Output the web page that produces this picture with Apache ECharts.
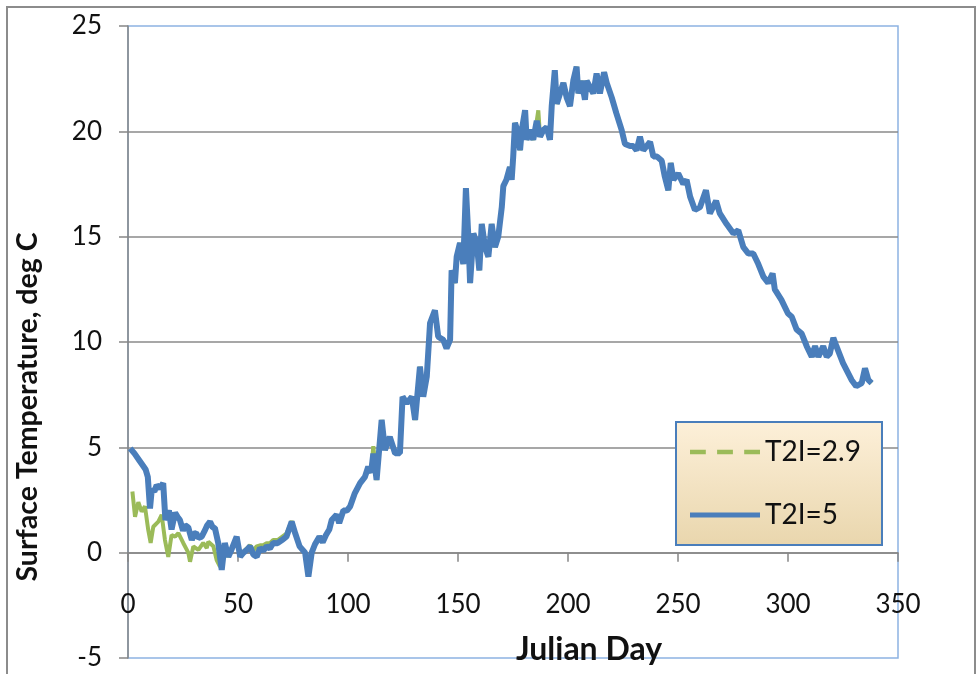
<!DOCTYPE html>
<html>
<head>
<meta charset="utf-8">
<script src="https://cdn.jsdelivr.net/npm/echarts@6/dist/echarts.min.js"></script>
<style>
html,body{margin:0;padding:0;background:#fff;}
#chart{width:977px;height:674px;}
</style>
</head>
<body>
<div id="chart"></div>
<script>
// Tick labels / axis ranges
const xTicks = [0, 50, 100, 150, 200, 250, 300, 350];
const yTicks = [-5, 0, 5, 10, 15, 20, 25];
const seriesNames = ['T2I=2.9', 'T2I=5'];

// T2I=5 series (Julian day, surface temperature)
const blueDays = [1,3,5,7,8,9,10,10.8,12,13,14.5,16,17,18.6,19.8,21.4,22.5,23.6,25,26,27.4,29,30,31,32,33.5,35,36,37.3,38.5,39.5,41,42.6,44,45.6,47,49.4,51,52.5,54,55.5,57,58.5,60,61.5,63,64.5,66,68,70,72,74.4,76,78,80.5,82,83.5,85,87,88.5,90,91.5,92.6,94.8,96,97.9,99.5,101,103,105.5,107.7,109.2,110.5,111.5,113,115.3,116.8,119,121.4,123.6,124.8,126.7,129,130.5,132.7,134.2,135.8,137.3,139.5,141,143.3,144.8,146.4,147.1,148.6,149.4,150.9,152.4,153.6,154.7,155.5,157,158.5,159.7,160.8,162.3,163.8,165.3,166.8,168.3,169.9,170.6,172,173.6,174.4,175.1,175.9,177.4,178.2,179,180.5,181.2,182.7,184.2,185.8,187.3,188.8,190.3,191.8,192.6,194,194.9,196.4,197.9,199.4,200.9,202.4,203.9,204.7,206.2,207.7,208.5,210,211.5,213,214.5,216.4,217.6,219.9,222,224.4,225.9,228.2,229.7,231.2,232.7,234.2,237.3,238.8,240.5,242.6,244,245.6,246.7,247.9,250.1,252.4,253.9,255.5,257.7,260,262.7,264.5,267.3,269,272.1,275.2,277.4,279.7,282,284.2,286.5,288.8,291,293,294,297,300,301.7,303.9,306.2,308.5,310.8,312.3,313.8,316,317.6,319,320.6,322,325,328.9,331,333.5,335,336.5,338];
const blueTemps = [4.95,4.7,4.4,4.1,3.95,3.6,2.1,3.0,2.9,3.2,3.05,3.3,1.55,2.0,1.1,1.9,1.7,1.55,1.05,1.3,1.2,0.6,0.9,0.93,0.7,0.76,1.07,1.3,1.47,1.2,1.17,0.46,-0.82,0.46,-0.19,0.13,0.76,-0.19,0.0,0.13,0.3,-0.1,-0.19,0.22,0.1,0.3,0.2,0.46,0.45,0.6,0.76,1.47,0.92,0.3,0.0,-1.14,0.0,0.4,0.76,0.5,0.84,1.1,1.55,1.8,1.4,2.0,2.0,2.2,2.8,3.3,3.6,4.08,3.8,4.7,3.45,6.3,4.87,5.5,4.72,4.72,7.4,7.1,7.4,6.3,8.83,7.4,8.35,10.9,11.5,10.25,10.1,9.7,10.1,13.4,12.8,14.05,14.7,13.7,17.3,15.0,12.8,15.15,14.7,13.4,15.6,14.5,14.05,15.6,14.5,15.0,16.4,17.4,17.7,18.3,17.7,18.8,20.4,19.9,19.1,20.06,21.0,19.6,20.06,19.6,20.5,19.75,20.06,20.2,19.6,21.2,22.9,21.3,21.8,22.3,21.6,21.2,22.4,23.07,21.8,22.4,21.5,22.4,22.1,21.8,22.75,21.8,22.8,22.3,21.6,20.85,20.06,19.4,19.3,19.3,19.1,19.75,19.1,19.5,18.8,18.8,18.6,17.85,17.2,18.5,17.7,18.0,17.5,17.7,16.9,16.27,16.4,17.2,16.1,16.7,16.1,15.6,15.15,15.3,14.5,14.2,14.2,13.7,13.1,12.8,13.25,12.5,12.0,11.35,11.2,10.6,10.4,9.8,9.3,9.8,9.3,9.8,9.3,9.45,10.2,9.8,9.0,8.2,7.9,8.05,8.75,8.2,8.05];

// T2I=2.9 series: its own readings where it departs from T2I=5 (days 2-76)
const greenEarlyDays = [2,3.2,4.7,6.2,7.7,9.2,10.3,11.5,13.8,15.3,16.8,18.3,19.8,21.4,22.9,25.1,27.4,28.2,29.7,32,34.2,35.8,36.5,38.8,40.3,41.8,43,44,45.6,47,49.4,51,52.5,54,55.5,57,58.5,60,61.5,63,64.5,66,68,70,72,74.4,76];
const greenEarlyTemps = [2.9,1.7,2.4,1.95,2.2,1.08,0.46,1.23,1.47,1.8,0.6,-0.2,0.84,0.76,0.93,0.46,0.0,-0.43,0.3,0.13,0.46,0.22,0.52,0.3,-0.35,-0.66,-0.5,0.4,-0.2,0.15,0.7,-0.15,0.05,0.2,0.35,0.1,0.3,0.35,0.35,0.45,0.45,0.6,0.6,0.75,0.9,1.5,0.95];
// After day 76 the two runs coincide; these are the only points where T2I=2.9 shows above
const greenPeakDays = [111.5, 186.5];
const greenPeakTemps = [5.05, 21.0];

function pairs(d, t) { return d.map((v, i) => [v, t[i]]); }
const blueData = pairs(blueDays, blueTemps);
const greenData = pairs(greenEarlyDays, greenEarlyTemps)
  .concat(blueData.filter(p => p[0] > 76 && greenPeakDays.indexOf(p[0]) < 0))
  .concat(pairs(greenPeakDays, greenPeakTemps))
  .sort((a, b) => a[0] - b[0]);

const FONT = 'Lato, "Open Sans", sans-serif';
const GREEN = '#9bbb59', BLUE = '#4a7ebb';
const chart = echarts.init(document.getElementById('chart'), null, {renderer: 'canvas'});
chart.setOption({
  animation: false,
  backgroundColor: '#fff',
  graphic: [
    {type: 'rect', z: 0, silent: true,
     shape: {x: 7, y: 7, width: 968, height: 700},
     style: {fill: 'none', stroke: '#8c8c8c', lineWidth: 2}},
    {type: 'rect', z: 50, silent: true,
     shape: {x: 676, y: 422, width: 206, height: 123},
     style: {
       fill: new echarts.graphic.LinearGradient(0, 0, 0, 1, [{offset: 0, color: '#fdf0d9'}, {offset: 1, color: '#e9d6ad'}]),
       stroke: BLUE, lineWidth: 2
     }}
  ],
  grid: {left: 128, right: 79, top: 26, bottom: 16, containLabel: false, outerBoundsMode: 'none',
         show: true, borderColor: '#8db3e2', borderWidth: 1.5, backgroundColor: 'transparent'},
  legend: {
    orient: 'vertical',
    left: 690, top: 438, right: 'auto', bottom: 'auto',
    padding: 0,
    z: 60,
    itemGap: 35,
    itemWidth: 70, itemHeight: 5,
    textStyle: {fontFamily: FONT, fontSize: 28, color: '#111'},
    data: [
      {name: seriesNames[0], icon: 'path://M0,0h14v4h-14z M24,0h14v4h-14z M48,0h14v4h-14z', itemStyle: {color: GREEN}},
      {name: seriesNames[1], icon: 'rect', itemStyle: {color: BLUE}}
    ]
  },
  xAxis: {
    type: 'value', min: xTicks[0], max: xTicks[xTicks.length - 1], interval: 50,
    name: 'Julian Day', nameLocation: 'middle', nameGap: -24,
    nameTextStyle: {fontFamily: FONT, fontSize: 32, fontWeight: 'bold', color: '#111', padding: [0, 0, 0, 152]},
    axisLine: {onZero: true, lineStyle: {color: '#868686', width: 1.5}},
    axisTick: {show: true, length: 9, lineStyle: {color: '#868686', width: 1.5}},
    axisLabel: {margin: -66, fontFamily: FONT, fontSize: 26, color: '#111'},
    splitLine: {show: false}
  },
  yAxis: {
    type: 'value', min: yTicks[0], max: yTicks[yTicks.length - 1], interval: 5,
    name: 'Surface Temperature, deg C', nameLocation: 'middle', nameGap: 86,
    nameTextStyle: {fontFamily: FONT, fontSize: 28.5, fontWeight: 'bold', color: '#111', padding: [0, 130, 0, 0]},
    axisLine: {show: true, onZero: false, lineStyle: {color: '#868686', width: 1.5}},
    axisTick: {show: true, length: 9, lineStyle: {color: '#868686', width: 1.5}},
    axisLabel: {margin: 26, fontFamily: FONT, fontSize: 26, color: '#111'},
    splitLine: {show: true, showMinLine: false, showMaxLine: false, lineStyle: {color: '#8a8a8a', width: 1.5}}
  },
  series: [
    {name: seriesNames[0], type: 'line', data: greenData, symbol: 'none', z: 2,
     lineStyle: {color: GREEN, width: 4}, itemStyle: {color: GREEN}},
    {name: seriesNames[1], type: 'line', data: blueData, symbol: 'none', z: 3,
     lineStyle: {color: BLUE, width: 6}, itemStyle: {color: BLUE}}
  ]
});
</script>
</body>
</html>
